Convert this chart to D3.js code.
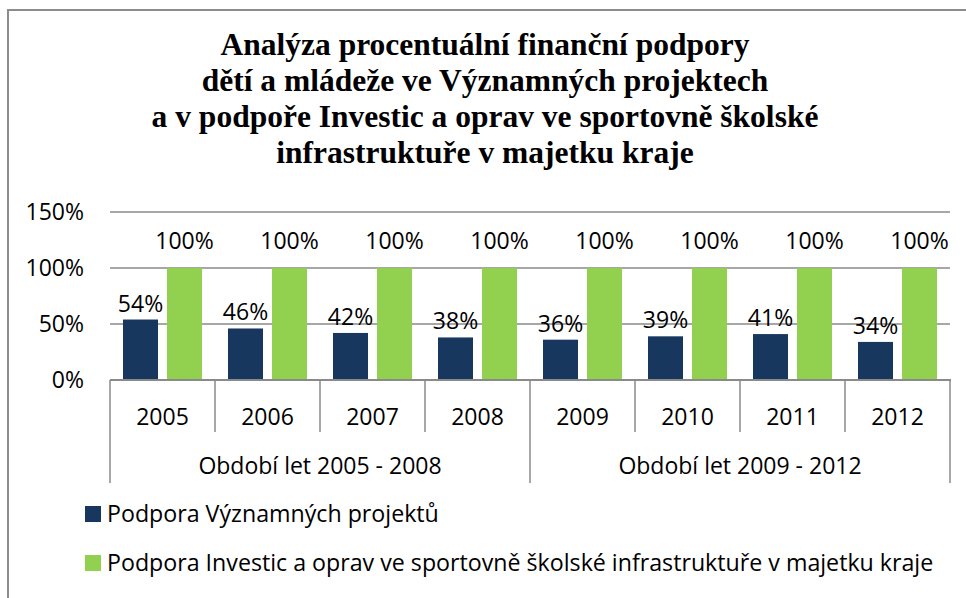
<!DOCTYPE html>
<html><head><meta charset="utf-8">
<script src="https://cdn.jsdelivr.net/npm/d3@7"></script>
<style>body{margin:0;background:#fff}svg{display:block}</style>
</head><body>
<script>
const years = ["2005","2006","2007","2008","2009","2010","2011","2012"];
const groups = ["Období let 2005 - 2008","Období let 2009 - 2012"];
const groupYears = [["2005","2006","2007","2008"],["2009","2010","2011","2012"]];
const seriesNames = ["Podpora Významných projektů","Podpora Investic a oprav ve sportovně školské infrastruktuře v majetku kraje"];
const vyznamne = [54,46,42,38,36,39,41,34];
const investice = [100,100,100,100,100,100,100,100];
const yTicks = [0,50,100,150];
const titleLines = ["Analýza procentuální finanční podpory","dětí a mládeže ve Významných projektech","a v podpoře Investic a oprav ve sportovně školské","infrastruktuře v majetku kraje"];
const colors = ["#17375E","#92D050"];

const W=966,H=598;
const svg=d3.select("body").append("svg").attr("width",W).attr("height",H);
const font="'Open Sans', sans-serif";
const fs=23;

// border
svg.append("path").attr("d",`M8,${H} L8,10 L${W},10`).attr("fill","none").attr("stroke","#8c8c8c").attr("stroke-width",2);

// title
svg.append("g").selectAll("text").data(titleLines).join("text")
  .attr("x",485).attr("y",(d,i)=>55+i*36).attr("text-anchor","middle")
  .attr("font-family","'Liberation Serif', 'Times New Roman', serif").attr("font-weight","bold")
  .attr("font-size",31.5).attr("fill","#000").text(d=>d);

const x=d3.scaleBand().domain(years).range([110,950]).padding(0);
const xs=d3.scaleBand().domain([0,1]).range([0,x.bandwidth()]).paddingInner(9/44).paddingOuter(0.2955);
const y=d3.scaleLinear().domain([0,150]).range([380,212]);

// gridlines
svg.append("g").selectAll("line").data(yTicks.filter(t=>t>0)).join("line")
  .attr("x1",110).attr("x2",950).attr("y1",d=>y(d)).attr("y2",d=>y(d))
  .attr("stroke","#8a8a8a").attr("stroke-width",1.5);

// y axis labels
svg.append("g").selectAll("text").data(yTicks).join("text")
  .attr("x",84).attr("y",d=>y(d)).attr("dy","0.36em").attr("text-anchor","end")
  .attr("font-family",font).attr("font-size",fs).attr("fill","#000").text(d=>d+"%");

const series=[vyznamne,investice];
const labelOffset=[8,19];
series.forEach((vals,si)=>{
  const g=svg.append("g");
  g.selectAll("rect").data(vals).join("rect")
    .attr("x",(d,i)=>x(years[i])+xs(si)).attr("width",xs.bandwidth())
    .attr("y",d=>y(d)).attr("height",d=>y(0)-y(d)).attr("fill",colors[si]);
  g.selectAll("text").data(vals).join("text")
    .attr("x",(d,i)=>x(years[i])+xs(si)+xs.bandwidth()/2).attr("y",d=>y(d)-labelOffset[si])
    .attr("text-anchor","middle").attr("font-family",font).attr("font-size",fs).attr("fill","#000")
    .text(d=>d+"%");
});

// category axis
svg.append("line").attr("x1",110).attr("x2",951).attr("y1",380).attr("y2",380).attr("stroke","#8a8a8a").attr("stroke-width",2);
const bounds=years.map(d=>x(d)).concat([950]);
svg.append("g").selectAll("line").data(bounds).join("line")
  .attr("x1",d=>d).attr("x2",d=>d).attr("y1",380)
  .attr("y2",(d,i)=>(i%4===0)?483:432).attr("stroke","#8a8a8a").attr("stroke-width",1.5);
svg.append("g").selectAll("text").data(years).join("text")
  .attr("x",d=>x(d)+x.bandwidth()/2).attr("y",417).attr("dy","0.36em").attr("text-anchor","middle")
  .attr("font-family",font).attr("font-size",fs).attr("fill","#000").text(d=>d);
svg.append("g").selectAll("text").data(groups).join("text")
  .attr("x",(d,i)=>(x(groupYears[i][0])+x(groupYears[i][3])+x.bandwidth())/2).attr("y",466).attr("dy","0.36em")
  .attr("text-anchor","middle").attr("font-family",font).attr("font-size",fs).attr("fill","#000").text(d=>d);

// legend
const lg=svg.append("g").selectAll("g").data(seriesNames).join("g")
  .attr("transform",(d,i)=>`translate(85,${506+i*49})`);
lg.append("rect").attr("width",16).attr("height",16).attr("fill",(d,i)=>colors[i]);
lg.append("text").attr("x",22).attr("y",8).attr("dy","0.36em")
  .attr("font-family",font).attr("font-size",23.2).attr("fill","#000").text(d=>d);
</script>
</body></html>
